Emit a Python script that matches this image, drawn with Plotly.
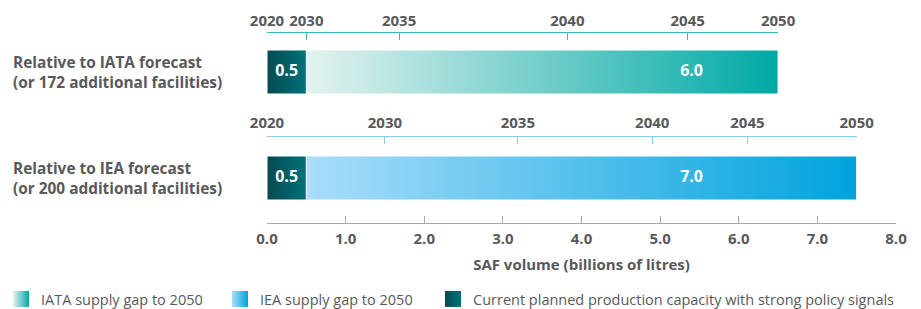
import plotly.graph_objects as go

# ---------------- data ----------------
row_labels = ["Relative to IATA forecast<br>(or 172 additional facilities)",
              "Relative to IEA forecast<br>(or 200 additional facilities)"]
row_pos = [1, 0]
current_capacity = [0.5, 0.5]
supply_gap = [6.0, 7.0]
gap_names = ["IATA supply gap to 2050", "IEA supply gap to 2050"]
capacity_name = "Current planned production capacity with strong policy signals"

iata_years = ["2020", "2030", "2035", "2040", "2045", "2050"]
iata_year_pos = [0.0, 0.5, 1.68, 3.82, 5.35, 6.5]
iea_years = ["2020", "2030", "2035", "2040", "2045", "2050"]
iea_year_pos = [0.0, 1.5, 3.19, 4.90, 6.11, 7.5]

volume_ticks = [0, 1, 2, 3, 4, 5, 6, 7, 8]
volume_ticktext = ["0.0", "1.0", "2.0", "3.0", "4.0", "5.0", "6.0", "7.0", "8.0"]

# ---------------- style ----------------
FONT = "Open Sans"
GREY = "#58595b"
AXIS_GREY = "#a7a9ac"
TEAL_LINE = "#36bab6"
BLUE_LINE = "#86c9ee"
gap_colors = [("#e4f3ef", "#00a9a5"), ("#a9ddfb", "#00a3dd")]
cap_colors = ("#064a50", "#00727a")
HALF = 0.2075
XMAX = 8
GAP_LABEL_X = 5.4
W, H = 921, 309

fig = go.Figure()

for i in range(len(row_labels)):
    yc = row_pos[i]
    y_box = [yc - HALF, yc - HALF, yc + HALF, yc + HALF, yc - HALF]
    c = current_capacity[i]
    g = supply_gap[i]
    fig.add_trace(go.Scatter(
        x=[c, c + g, c + g, c, c], y=y_box, mode="lines", fill="toself",
        line=dict(color="white", width=1),
        fillgradient=dict(type="horizontal",
                          colorscale=[[0, gap_colors[i][0]], [1, gap_colors[i][1]]]),
        showlegend=False, hoverinfo="skip",
    ))
    fig.add_trace(go.Scatter(
        x=[0, c, c, 0, 0], y=y_box, mode="lines", fill="toself",
        line=dict(color="white", width=1),
        fillgradient=dict(type="horizontal",
                          colorscale=[[0, cap_colors[0]], [1, cap_colors[1]]]),
        showlegend=False, hoverinfo="skip",
    ))
    fig.add_trace(go.Scatter(
        x=[c / 2, GAP_LABEL_X], y=[yc, yc], mode="text",
        text=[f"{c:.1f}", f"{g:.1f}"],
        textfont=dict(family=FONT, size=16, color="white", weight="bold"),
        showlegend=False, hoverinfo="skip",
    ))
    fig.add_annotation(
        x=-0.407, xref="paper", y=yc, yref="y", xanchor="left", yanchor="middle",
        align="left", text=row_labels[i], showarrow=False,
        font=dict(family=FONT, size=15.4, color=GREY, weight="bold"),
    )

# invisible anchors so the two year axes are drawn
fig.add_trace(go.Scatter(x=iata_year_pos, y=[row_pos[0]] * len(iata_year_pos),
                         xaxis="x2", yaxis="y", mode="markers", marker=dict(opacity=0),
                         showlegend=False, hoverinfo="skip"))
fig.add_trace(go.Scatter(x=iea_year_pos, y=[row_pos[1]] * len(iea_year_pos),
                         xaxis="x3", yaxis="y", mode="markers", marker=dict(opacity=0),
                         showlegend=False, hoverinfo="skip"))

# legend entries (gradient squares)
legend_items = [
    (gap_names[0], gap_colors[0], "legend"),
    (gap_names[1], gap_colors[1], "legend2"),
    (capacity_name, cap_colors, "legend3"),
]
for name, (c0, c1), lg in legend_items:
    fig.add_trace(go.Scatter(
        x=[None], y=[None], mode="markers", name=name, legend=lg,
        marker=dict(symbol="square", size=16, color=c0,
                    gradient=dict(type="horizontal", color=c1)),
        hoverinfo="skip",
    ))

tickfont = dict(family=FONT, size=15, color=GREY, weight="bold")
iata_total = current_capacity[0] + supply_gap[0]
iea_total = current_capacity[1] + supply_gap[1]

legfont = dict(family=FONT, size=14.5, color=GREY)
leg_common = dict(orientation="h", xref="container", yref="container", xanchor="left",
                  yanchor="middle", y=1 - 299 / H, font=legfont, bgcolor="rgba(0,0,0,0)",
                  borderwidth=0)

fig.update_layout(
    width=W, height=H,
    margin=dict(l=267, r=25, t=32, b=86, autoexpand=False),
    paper_bgcolor="white", plot_bgcolor="rgba(0,0,0,0)",
    font=dict(family=FONT, color=GREY),
    showlegend=True,
    legend=dict(x=1 / W, **leg_common),
    legend2=dict(x=220 / W, **leg_common),
    legend3=dict(x=433 / W, **leg_common),
    xaxis=dict(range=[0, XMAX], tickvals=volume_ticks, ticktext=volume_ticktext,
               ticks="inside", ticklen=7, tickcolor=AXIS_GREY, showline=True,
               linecolor=AXIS_GREY, showgrid=False, zeroline=False, tickangle=0,
               tickfont=tickfont, ticklabelstandoff=2,
               title=dict(text="SAF volume (billions of litres)", font=tickfont, standoff=12)),
    yaxis=dict(range=[-0.4245, 1.3774], visible=False, fixedrange=True),
    xaxis2=dict(domain=[0, iata_total / XMAX], range=[0, iata_total], anchor="free",
                position=1.0, side="top", tickvals=iata_year_pos, ticktext=iata_years,
                ticks="inside", ticklen=7, tickcolor=TEAL_LINE, showline=True,
                linecolor=TEAL_LINE, showgrid=False, zeroline=False, tickangle=0,
                tickfont=tickfont),
    xaxis3=dict(domain=[0, iea_total / XMAX], range=[0, iea_total], anchor="free",
                position=0.4555, side="top", tickvals=iea_year_pos, ticktext=iea_years,
                ticks="inside", ticklen=7, tickcolor=BLUE_LINE, showline=True,
                linecolor=BLUE_LINE, showgrid=False, zeroline=False, tickangle=0,
                tickfont=tickfont, ticklabelstandoff=2),
)

fig.write_html("out.html", config={"displayModeBar": False},
               post_script="document.body.style.margin='0px';")
